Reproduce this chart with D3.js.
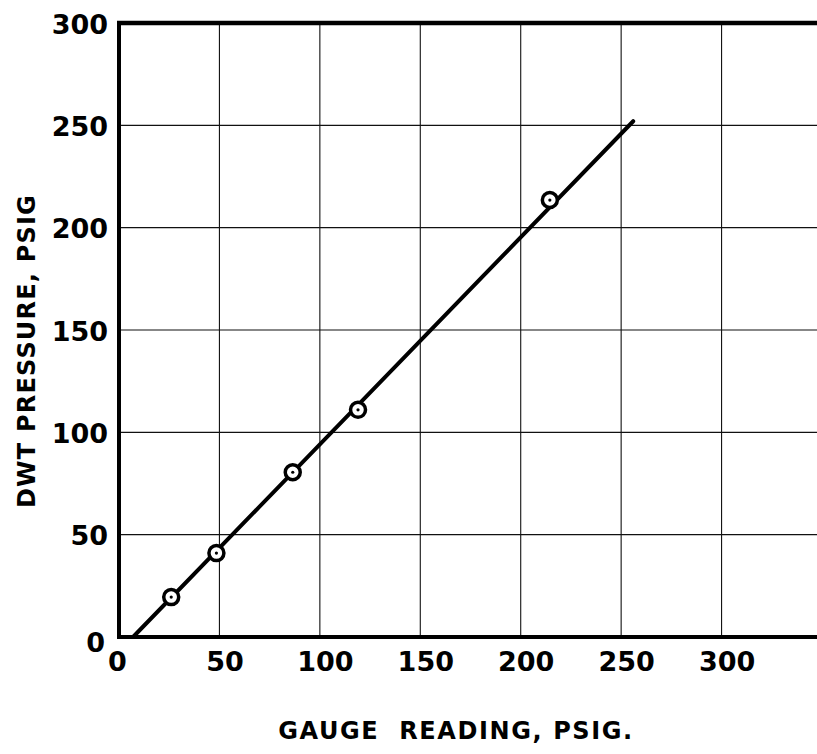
<!DOCTYPE html>
<html>
<head>
<meta charset="utf-8">
<script src="https://cdn.jsdelivr.net/npm/d3@7"></script>
<style>
  html, body { margin: 0; padding: 0; background: #fff; }
  svg { display: block; }
  text { font-family: "DejaVu Sans", sans-serif; font-weight: bold; fill: #000; }
</style>
</head>
<body>
<svg id="chart" width="817" height="754"></svg>
<script>
// ---- data ----
const gaugeReading = [26, 48.5, 86.5, 119, 214.5];   // x, psig
const dwtPressure  = [19.5, 41, 80.5, 111, 213.5];   // y, psig
const fitGauge     = [7, 256];                        // fitted line x ends
const fitDwt       = [0, 252];                        // fitted line y ends
const xTicks = [0, 50, 100, 150, 200, 250, 300];
const yTicks = [0, 50, 100, 150, 200, 250, 300];
const xGrid  = [50, 100, 150, 200, 250, 300, 350];
const yGrid  = [50, 100, 150, 200, 250];
const xTitle = "GAUGE  READING, PSIG.";
const yTitle = "DWT PRESSURE, PSIG";

const svg = d3.select("#chart");
const x = d3.scaleLinear().domain([0, 350]).range([119, 822]);
const y = d3.scaleLinear().domain([0, 300]).range([637, 23]);

// grid
svg.append("g").selectAll("line.gx").data(xGrid).join("line")
  .attr("x1", d => x(d)).attr("x2", d => x(d))
  .attr("y1", y(300)).attr("y2", y(0))
  .attr("stroke", "#111").attr("stroke-width", 1.1);
svg.append("g").selectAll("line.gy").data(yGrid).join("line")
  .attr("x1", x(0)).attr("x2", x(350))
  .attr("y1", d => y(d)).attr("y2", d => y(d))
  .attr("stroke", "#111").attr("stroke-width", 1.1);

// frame (left, bottom, top)
svg.append("line").attr("x1", x(0)).attr("x2", x(0)).attr("y1", y(300) - 2).attr("y2", y(0) + 2)
  .attr("stroke", "#000").attr("stroke-width", 4);
svg.append("line").attr("x1", x(0) - 2).attr("x2", x(350)).attr("y1", y(0)).attr("y2", y(0))
  .attr("stroke", "#000").attr("stroke-width", 4);
svg.append("line").attr("x1", x(0) - 2).attr("x2", x(350)).attr("y1", y(300)).attr("y2", y(300))
  .attr("stroke", "#000").attr("stroke-width", 4.5);

// tick labels
const xAxis = d3.axisBottom(x).tickValues(xTicks).tickSize(0).tickPadding(0).tickFormat(d3.format("d"));
const gx = svg.append("g").attr("transform", `translate(0,${y(0)})`).call(xAxis);
gx.select(".domain").remove();
gx.selectAll("text").attr("font-size", 27).attr("font-family", "DejaVu Sans").attr("font-weight", "bold")
  .attr("dx", d => d === 0 ? -2 : 5).attr("dy", 0).attr("y", 34).attr("fill", "#000");

const yAxis = d3.axisLeft(y).tickValues(yTicks).tickSize(0).tickPadding(0).tickFormat(d3.format("d"));
const gy = svg.append("g").attr("transform", `translate(${x(0)},0)`).call(yAxis);
gy.select(".domain").remove();
gy.selectAll("text").attr("font-size", 27).attr("font-family", "DejaVu Sans").attr("font-weight", "bold")
  .attr("x", d => d === 0 ? -14 : -11).attr("dy", d => d === 0 ? 14 : 10).attr("fill", "#000");

// fitted line
svg.append("path")
  .datum(d3.zip(fitGauge, fitDwt))
  .attr("d", d3.line().x(d => x(d[0])).y(d => y(d[1])))
  .attr("fill", "none").attr("stroke", "#000").attr("stroke-width", 4).attr("stroke-linecap", "round");

// markers
const pts = d3.zip(gaugeReading, dwtPressure);
const mk = svg.append("g").selectAll("g").data(pts).join("g")
  .attr("transform", d => `translate(${x(d[0])},${y(d[1])})`);
mk.append("circle").attr("r", 7.5).attr("fill", "#fff").attr("stroke", "#000").attr("stroke-width", 3.5);
mk.append("circle").attr("r", 1.6).attr("fill", "#000");

// titles
svg.append("text").attr("x", 456).attr("y", 739).attr("text-anchor", "middle")
  .attr("font-size", 24).attr("letter-spacing", 1.6).style("white-space", "pre").text(xTitle);
svg.append("text").attr("transform", "translate(35,351) rotate(-90)").attr("text-anchor", "middle")
  .attr("font-size", 24).attr("letter-spacing", 1.2).text(yTitle);
</script>
</body>
</html>
